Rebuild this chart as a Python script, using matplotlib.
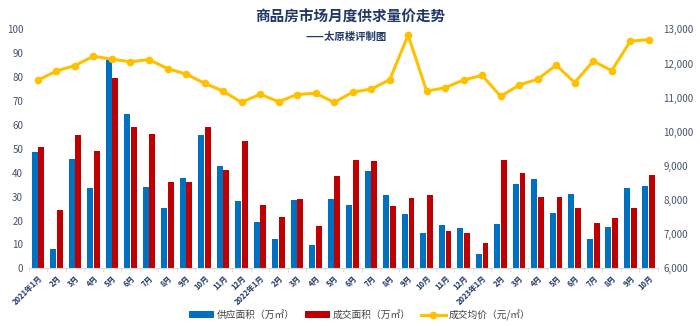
import numpy as np
import matplotlib
matplotlib.use('Agg')
import matplotlib.pyplot as plt
from matplotlib.ticker import FuncFormatter, MultipleLocator

plt.rcParams['font.family'] = ['Noto Sans CJK SC', 'DejaVu Sans']

# 2021-01 .. 2023-10
months = ['2021年1月', '2月', '3月', '4月', '5月', '6月', '7月', '8月', '9月', '10月', '11月', '12月',
          '2022年1月', '2月', '3月', '4月', '5月', '6月', '7月', '8月', '9月', '10月', '11月', '12月',
          '2023年1月', '2月', '3月', '4月', '5月', '6月', '7月', '8月', '9月', '10月']

# 供应面积 (万㎡)
supply = [48.8, 8.1, 45.7, 33.6, 87.9, 64.7, 34.1, 25.4, 37.8, 55.9, 42.9, 28.3,
          19.2, 12.1, 28.4, 9.6, 29.1, 26.5, 40.8, 30.5, 22.6, 14.6, 18.0, 17.0,
          5.8, 18.5, 35.4, 37.2, 23.0, 31.0, 12.4, 17.3, 33.6, 34.4]

# 成交面积 (万㎡)
deal = [50.6, 24.5, 55.6, 49.2, 79.5, 59.1, 56.0, 36.2, 36.2, 59.0, 41.1, 53.3,
        26.5, 21.5, 29.1, 17.6, 38.8, 45.3, 44.8, 26.1, 29.4, 30.8, 15.5, 14.8,
        10.7, 45.3, 39.7, 29.8, 30.0, 25.4, 19.0, 21.0, 25.1, 38.9]

# 成交均价 (元/㎡)
price = [11510, 11780, 11940, 12210, 12125, 12050, 12115, 11850, 11690, 11420, 11190, 10860,
         11100, 10880, 11090, 11130, 10860, 11160, 11250, 11520, 12830, 11190, 11290, 11520,
         11650, 11040, 11370, 11540, 11950, 11440, 12070, 11790, 12650, 12700]

blue = '#0070C0'
red = '#C00000'
gold = '#FFC000'
txt = '#44546A'
navy = '#1F3864'

fig = plt.figure(figsize=(7, 3.26), dpi=100)
ax = fig.add_axes([0.041, 0.177, 0.899, 0.733])
x = np.arange(len(months))

ax.bar(x - 0.18, supply, width=0.32, color=blue, label='供应面积（万㎡）', zorder=2)
ax.bar(x + 0.18, deal, width=0.32, color=red, label='成交面积（万㎡）', zorder=2)
ax.set_xlim(-0.5, len(months) - 0.5)
ax.set_ylim(0, 100)
ax.yaxis.set_major_locator(MultipleLocator(10))

ax2 = ax.twinx()
ax2.plot(x, price, color=gold, lw=2.2, marker='o', ms=4.5, label='成交均价（元/㎡）', zorder=3)
ax2.set_ylim(6000, 13000)
ax2.yaxis.set_major_locator(MultipleLocator(1000))
ax2.yaxis.set_major_formatter(FuncFormatter(lambda v, p: f'{int(v):,}'))

for a in (ax, ax2):
    for s in ('top', 'left', 'right'):
        a.spines[s].set_visible(False)
ax2.spines['bottom'].set_visible(False)
ax.spines['bottom'].set_color('#D9D9D9')

ax.tick_params(axis='y', length=0, labelsize=7, labelcolor=txt, pad=4)
ax2.tick_params(axis='y', length=0, labelsize=7, labelcolor=txt, pad=4)

ax.set_xticks(x)
ax.set_xticklabels(months, rotation=45, ha='right', rotation_mode='anchor',
                   fontsize=5.5, fontweight='bold', color=navy)
ax.tick_params(axis='x', which='major', length=0, pad=4)
ax.set_xticks(np.arange(-0.5, len(months)), minor=True)
ax.tick_params(axis='x', which='minor', length=3, color='#D9D9D9')

fig.text(0.5, 0.948, '商品房市场月度供求量价走势', ha='center', va='center',
         fontsize=10.5, fontweight='bold', color=navy)
fig.text(0.495, 0.886, '——太原楼评制图', ha='center', va='center',
         fontsize=7.5, fontweight='bold', color=navy)

h1, l1 = ax.get_legend_handles_labels()
h2, l2 = ax2.get_legend_handles_labels()
fig.legend(h1 + h2, l1 + l2, loc='lower center', bbox_to_anchor=(0.514, -0.01), ncol=3,
           frameon=False, fontsize=7, labelcolor='#404040', handlelength=2.6,
           handleheight=0.6, columnspacing=1.0, handletextpad=0.3)

fig.savefig('out.png', dpi=100)
